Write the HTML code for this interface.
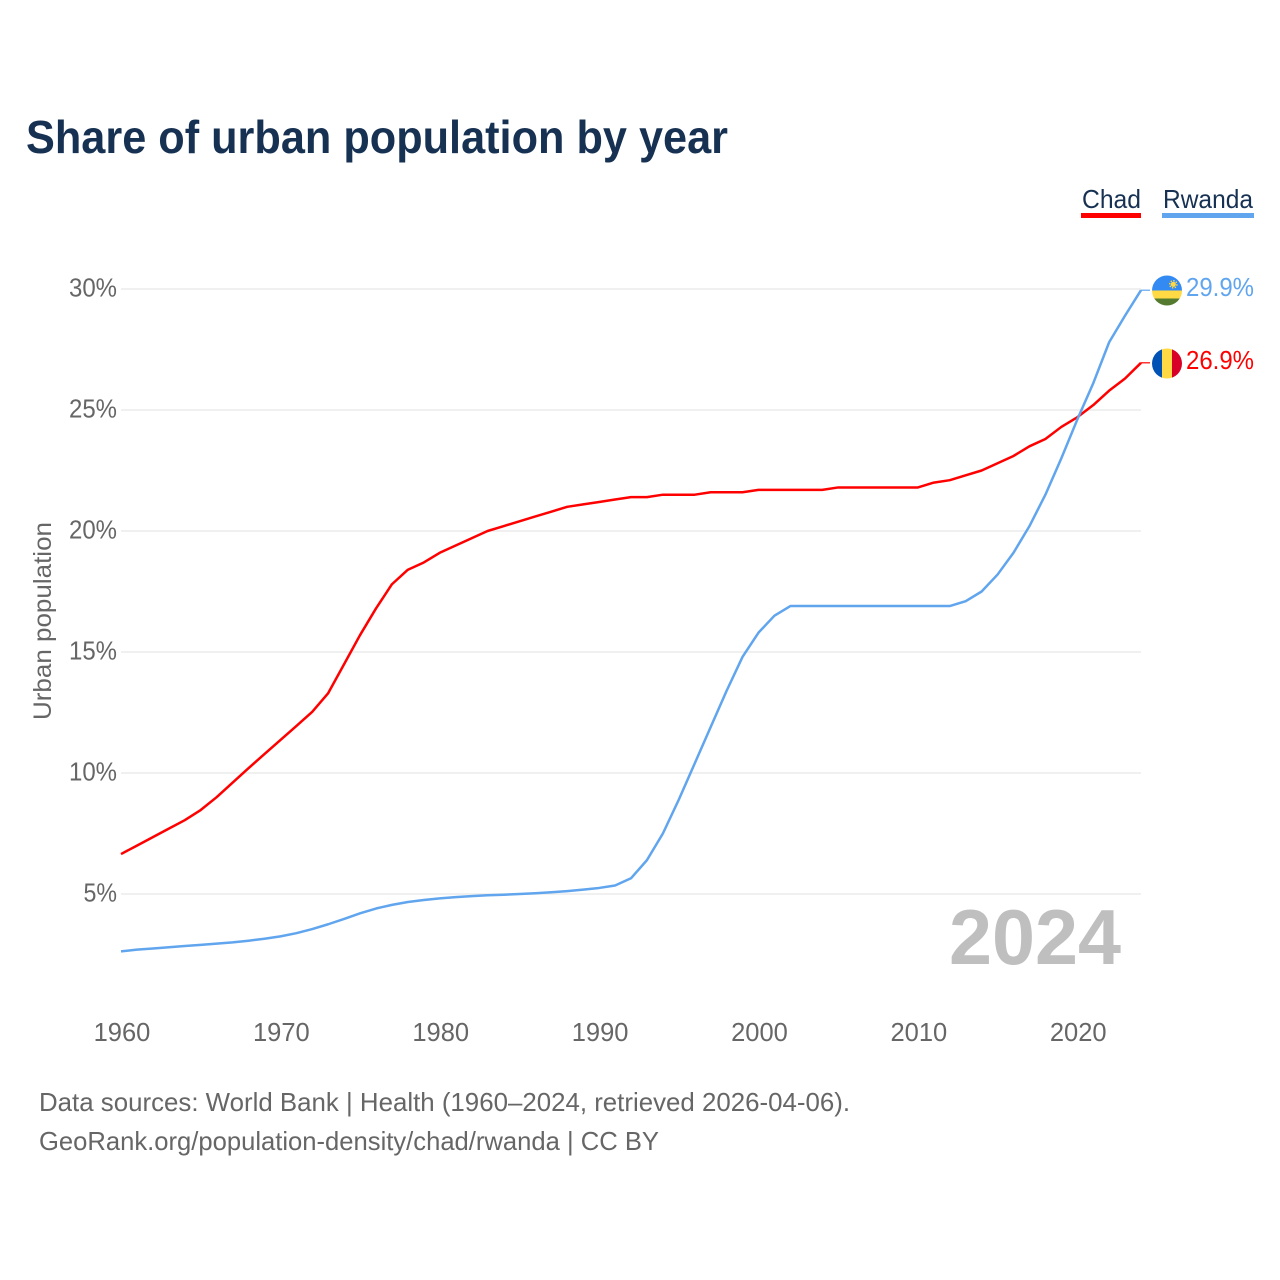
<!DOCTYPE html>
<html lang="en">
<head>
<meta charset="utf-8">
<title>Share of urban population by year</title>
<style>
html,body{margin:0;padding:0;background:#fff;width:1280px;height:1280px;overflow:hidden}
svg{display:block}
text{font-family:"Liberation Sans",sans-serif}
</style>
</head>
<body>
<svg id="chart" width="1280" height="1280" viewBox="0 0 1280 1280" xmlns="http://www.w3.org/2000/svg">
  <rect width="1280" height="1280" fill="#fff"/>
  <text x="26" y="153" font-size="46" font-weight="700" fill="#173153" textLength="702" lengthAdjust="spacingAndGlyphs">Share of urban population by year</text>

  <g id="grid"></g>
  <g id="yticks"></g>
  <g id="xticks"></g>
  <text transform="translate(51,621) rotate(-90)" text-anchor="middle" font-size="25" fill="#666" textLength="198" lengthAdjust="spacingAndGlyphs">Urban population</text>

  <text x="949" y="964" font-size="78" font-weight="700" fill="#bfbfbf" textLength="172" lengthAdjust="spacingAndGlyphs">2024</text>

  <g id="series"></g>

  <g>
    <text x="1082" y="208" font-size="26" fill="#173153" textLength="59" lengthAdjust="spacingAndGlyphs">Chad</text>
    <rect x="1081" y="213" width="60" height="5" fill="#ff0000"/>
  </g>
  <g>
    <text x="1163" y="208" font-size="26" fill="#173153" textLength="90" lengthAdjust="spacingAndGlyphs">Rwanda</text>
    <rect x="1162" y="213" width="92" height="5" fill="#60a5ee"/>
  </g>

  <defs>
    <clipPath id="flag-clip-rwanda"><circle id="clip-rw" cx="1167" cy="290.5" r="15"/></clipPath>
    <clipPath id="flag-clip-chad"><circle id="clip-td" cx="1167" cy="363.5" r="15"/></clipPath>
  </defs>
  <g id="flag-rwanda" clip-path="url(#flag-clip-rwanda)">
    <rect x="1152" y="275" width="30" height="15.5" fill="#338af3"/>
    <rect x="1152" y="290.5" width="30" height="8" fill="#ffda44"/>
    <rect x="1152" y="298.5" width="30" height="8" fill="#537a2e"/>
    <circle cx="1173.3" cy="284.3" r="2.6" fill="#ffda44"/>
    <circle cx="1173.3" cy="284.3" r="3.6" fill="none" stroke="#ffda44" stroke-width="1.4" stroke-dasharray="1.4 1.4"/>
  </g>
  <g id="flag-chad" clip-path="url(#flag-clip-chad)">
    <rect x="1152" y="348" width="10" height="31" fill="#0052b4"/>
    <rect x="1162" y="348" width="10" height="31" fill="#ffda44"/>
    <rect x="1172" y="348" width="10" height="31" fill="#d80027"/>
  </g>
  <text id="value-rwanda" x="1186" y="296" font-size="26" fill="#60a5ee" textLength="68" lengthAdjust="spacingAndGlyphs">29.9%</text>
  <text id="value-chad" x="1186" y="369" font-size="26" fill="#ff0000" textLength="68" lengthAdjust="spacingAndGlyphs">26.9%</text>

  <text x="39" y="1111" font-size="26" fill="#666" textLength="811" lengthAdjust="spacingAndGlyphs">Data sources: World Bank | Health (1960–2024, retrieved 2026-04-06).</text>
  <text x="39" y="1150" font-size="26" fill="#666" textLength="620" lengthAdjust="spacingAndGlyphs">GeoRank.org/population-density/chad/rwanda | CC BY</text>
</svg>
<script>
const startYear = 1960;
const yTickValues = [5, 10, 15, 20, 25, 30];
const xTickYears = [1960, 1970, 1980, 1990, 2000, 2010, 2020];
const chadValues = [6.65,7.0,7.35,7.7,8.05,8.47,9.0,9.6,10.2,10.78,11.36,11.94,12.53,13.3,14.5,15.7,16.8,17.8,18.4,18.7,19.1,19.4,19.7,20.0,20.2,20.4,20.6,20.8,21.0,21.1,21.2,21.3,21.4,21.4,21.5,21.5,21.5,21.6,21.6,21.6,21.7,21.7,21.7,21.7,21.7,21.8,21.8,21.8,21.8,21.8,21.8,22.0,22.1,22.3,22.5,22.8,23.1,23.5,23.8,24.3,24.7,25.2,25.8,26.3,26.95];
const rwandaValues = [2.63,2.7,2.75,2.8,2.85,2.9,2.95,3.0,3.07,3.15,3.25,3.38,3.55,3.75,3.97,4.2,4.4,4.55,4.67,4.75,4.82,4.87,4.91,4.95,4.97,5.0,5.03,5.07,5.12,5.18,5.25,5.35,5.65,6.4,7.5,8.9,10.4,11.9,13.4,14.8,15.8,16.5,16.9,16.9,16.9,16.9,16.9,16.9,16.9,16.9,16.9,16.9,16.9,17.1,17.5,18.2,19.1,20.2,21.5,23.0,24.6,26.1,27.8,28.9,29.95];

const NS = 'http://www.w3.org/2000/svg';
const xScale = function (year) { return 121 + (year - 1960) * (1141 - 121) / 64; };
const yScale = function (v) { return 894 - (v - 5) * 24.2; };
function make(tag, parent) {
  const el = document.createElementNS(NS, tag);
  parent.appendChild(el);
  return el;
}

const grid = document.getElementById('grid');
const yticks = document.getElementById('yticks');
yTickValues.forEach(function (v) {
  const line = make('line', grid);
  
  
  line.setAttribute('x1', 121);
  line.setAttribute('x2', 1141);
  line.setAttribute('y1', yScale(v));
  line.setAttribute('y2', yScale(v));
  line.setAttribute('stroke', '#ebebeb');
  line.setAttribute('stroke-width', 1.5);
  const label = make('text', yticks);
  
  
  const s = v + '%';
  label.setAttribute('x', 117 - (s.length * 14.5 + 4.5));
  label.setAttribute('y', yScale(v) + 7.5);
  label.setAttribute('font-size', 26);
  label.setAttribute('fill', '#666');
  label.setAttribute('textLength', s.length * 14.5 + 4.5);
  label.setAttribute('lengthAdjust', 'spacingAndGlyphs');
  label.textContent = s;
});

const xticks = document.getElementById('xticks');
xTickYears.forEach(function (yr) {
  const label = make('text', xticks);
  
  
  label.setAttribute('x', xScale(yr) + 1);
  label.setAttribute('y', 1041);
  label.setAttribute('text-anchor', 'middle');
  label.setAttribute('font-size', 25.5);
  label.setAttribute('fill', '#666');
  label.textContent = yr;
});

const seriesGroup = document.getElementById('series');
function drawSeries(values, color, name) {
  const pts = values.map(function (v, i) {
    return xScale(startYear + i).toFixed(2) + ',' + yScale(v).toFixed(2);
  });
  const last = values[values.length - 1];
  const line = make('polyline', seriesGroup);
  
  
  line.setAttribute('points', pts.join(' '));
  line.setAttribute('fill', 'none');
  line.setAttribute('stroke', color);
  line.setAttribute('stroke-width', 2.5);
  line.setAttribute('stroke-linejoin', 'round');
  const stub = make('line', seriesGroup);
  
  
  stub.setAttribute('x1', xScale(startYear + values.length - 1));
  stub.setAttribute('x2', xScale(startYear + values.length - 1) + 9);
  stub.setAttribute('y1', yScale(last));
  stub.setAttribute('y2', yScale(last));
  stub.setAttribute('stroke', color);
  stub.setAttribute('stroke-width', 1.2);
}
drawSeries(chadValues, '#ff0000', 'chad');
drawSeries(rwandaValues, '#60a5ee', 'rwanda');
</script>
</body>
</html>
